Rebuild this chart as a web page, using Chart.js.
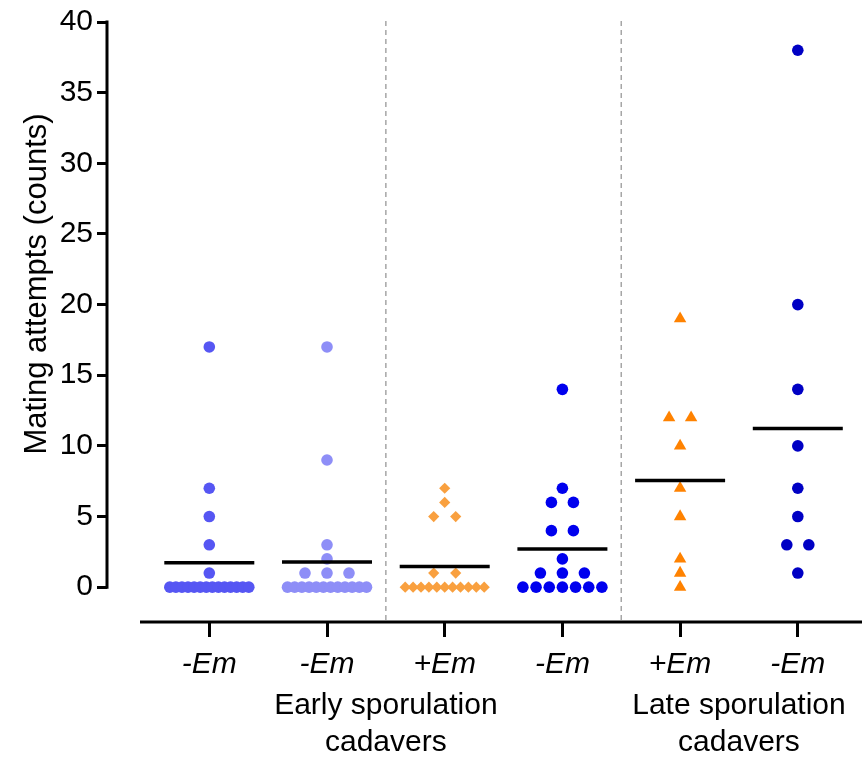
<html>
  <head>
    <script src="https://cdn.jsdelivr.net/npm/chart.js"></script>
    <style>
      body { margin: 0; background: #fff; }
      #wrap { width: 862px; height: 758px; }
    </style>
  </head>
  <body>
    <div id="wrap"><canvas id="myChart"></canvas></div>
    <script>
      // tick labels
      const xLabels = ['-Em', '-Em', '+Em', '-Em', '+Em', '-Em'];
      const yTicks = [0, 5, 10, 15, 20, 25, 30, 35, 40];
      const groupLabels = [['Early sporulation', 'cadavers'], ['Late sporulation', 'cadavers']];
      const groupCenters = [2.5, 5.5];
      const separators = [2.5, 4.5];

      // mating attempts per animal, one array per column
      const earlyMinus1 = [17, 7, 5, 3, 1, 0, 0, 0, 0, 0, 0, 0, 0, 0, 0, 0, 0, 0, 0];
      const earlyMinus2 = [17, 9, 3, 2, 1, 1, 1, 0, 0, 0, 0, 0, 0, 0, 0, 0, 0, 0, 0];
      const earlyPlus = [7, 6, 5, 5, 1, 1, 0, 0, 0, 0, 0, 0, 0, 0, 0, 0, 0];
      const earlyMinus3 = [14, 7, 6, 6, 4, 4, 2, 1, 1, 1, 0, 0, 0, 0, 0, 0, 0];
      const latePlus = [19, 12, 12, 10, 7, 5, 2, 1, 0];
      const lateMinus = [38, 20, 14, 10, 7, 5, 3, 3, 1];

      const columns = [earlyMinus1, earlyMinus2, earlyPlus, earlyMinus3, latePlus, lateMinus];
      const colors = ['#5656f3', '#8e8ef7', '#f9a03f', '#0000ee', '#ff8200', '#0000c4'];
      const shapes = ['circle', 'circle', 'rectRot', 'circle', 'triangle', 'circle'];
      const radii = [5.8, 5.8, 5.6, 5.8, 7.2, 5.8];

      const PX_PER_UNIT = 117.7;
      const FONT = '"Liberation Sans", Arial, sans-serif';

      // spread equal values sideways, like a column scatter plot
      function swarm(values, center) {
        const counts = {};
        values.forEach(v => counts[v] = (counts[v] || 0) + 1);
        const seen = {};
        return values.map(v => {
          const n = counts[v];
          const k = seen[v] = (seen[v] === undefined ? 0 : seen[v] + 1);
          let off = 0;
          if (n > 1) {
            const span = Math.min(22 * (n - 1), 79);
            off = -span / 2 + k * span / (n - 1);
          }
          return { x: center + off / PX_PER_UNIT, y: v };
        });
      }

      const datasets = columns.map((vals, i) => ({
        data: swarm(vals, i + 1),
        backgroundColor: colors[i],
        borderWidth: 0,
        pointStyle: shapes[i],
        pointRadius: radii[i],
        pointHoverRadius: radii[i],
        clip: false
      }));

      const decor = {
        id: 'decor',
        beforeDatasetsDraw(chart) {
          const { ctx, scales: { x, y }, chartArea } = chart;
          ctx.save();
          ctx.strokeStyle = '#a6a6a6';
          ctx.lineWidth = 1.5;
          ctx.setLineDash([5, 4]);
          separators.forEach(s => {
            ctx.beginPath();
            ctx.moveTo(x.getPixelForValue(s), chartArea.top - 1);
            ctx.lineTo(x.getPixelForValue(s), chartArea.bottom);
            ctx.stroke();
          });
          ctx.restore();
        },
        afterDatasetsDraw(chart) {
          const { ctx, scales: { x, y }, chartArea } = chart;
          ctx.save();
          // mean lines
          ctx.strokeStyle = '#000';
          ctx.lineWidth = 3.5;
          columns.forEach((vals, i) => {
            const mean = vals.reduce((a, b) => a + b, 0) / vals.length;
            const py = y.getPixelForValue(mean);
            ctx.beginPath();
            ctx.moveTo(x.getPixelForValue(i + 1) - 45, py);
            ctx.lineTo(x.getPixelForValue(i + 1) + 45, py);
            ctx.stroke();
          });
          // axis lines
          ctx.lineWidth = 3;
          ctx.beginPath();
          ctx.moveTo(chartArea.left, y.getPixelForValue(40) - 1.5);
          ctx.lineTo(chartArea.left, y.getPixelForValue(0) + 1.5);
          ctx.stroke();
          ctx.beginPath();
          ctx.moveTo(140, chartArea.bottom);
          ctx.lineTo(chartArea.right, chartArea.bottom);
          ctx.stroke();
          // y title
          ctx.fillStyle = '#000';
          ctx.font = '31px ' + FONT;
          ctx.textAlign = 'center';
          ctx.textBaseline = 'middle';
          ctx.save();
          ctx.translate(37, 284);
          ctx.rotate(-Math.PI / 2);
          ctx.fillText('Mating attempts (counts)', 0, 0);
          ctx.restore();
          // group labels
          ctx.font = '30px ' + FONT;
          groupLabels.forEach((lines, g) => {
            const px = x.getPixelForValue(groupCenters[g]);
            lines.forEach((t, j) => ctx.fillText(t, px, 706 + j * 37));
          });
          ctx.restore();
        }
      };

      const config = {
        type: 'scatter',
        data: { datasets: datasets },
        plugins: [decor],
        options: {
          responsive: true,
          maintainAspectRatio: false,
          animation: false,
          layout: { autoPadding: false, padding: { top: 19, right: 0, left: 0, bottom: 0 } },
          plugins: { legend: { display: false }, tooltip: { enabled: false } },
          scales: {
            x: {
              type: 'linear',
              min: 1 - (209.3 - 107) / PX_PER_UNIT,
              max: 1 + (862 - 209.3) / PX_PER_UNIT,
              afterBuildTicks: s => { s.ticks = xLabels.map((l, i) => ({ value: i + 1 })); },
              afterFit: s => { s.height = 136; s.paddingLeft = 0; s.paddingRight = 0; },
              border: { display: false },
              grid: { drawOnChartArea: false, tickLength: 15, color: '#000', lineWidth: 3 },
              ticks: {
                callback: v => xLabels[v - 1],
                color: '#000',
                padding: 10,
                maxRotation: 0,
                autoSkip: false,
                font: { family: FONT, size: 30, style: 'italic' }
              }
            },
            y: {
              min: -(622 - 587) / 14.2,
              max: 40,
              afterBuildTicks: s => { s.ticks = yTicks.map(v => ({ value: v })); },
              afterFit: s => { s.width = 107; },
              border: { display: false },
              grid: { drawOnChartArea: false, tickLength: 10, color: '#000', lineWidth: 3 },
              ticks: {
                color: '#000',
                padding: 4,
                font: { family: FONT, size: 30 }
              }
            }
          }
        }
      };

      const ctx = document.getElementById('myChart').getContext('2d');
      const myChart = new Chart(ctx, config);
    </script>
  </body>
</html>
